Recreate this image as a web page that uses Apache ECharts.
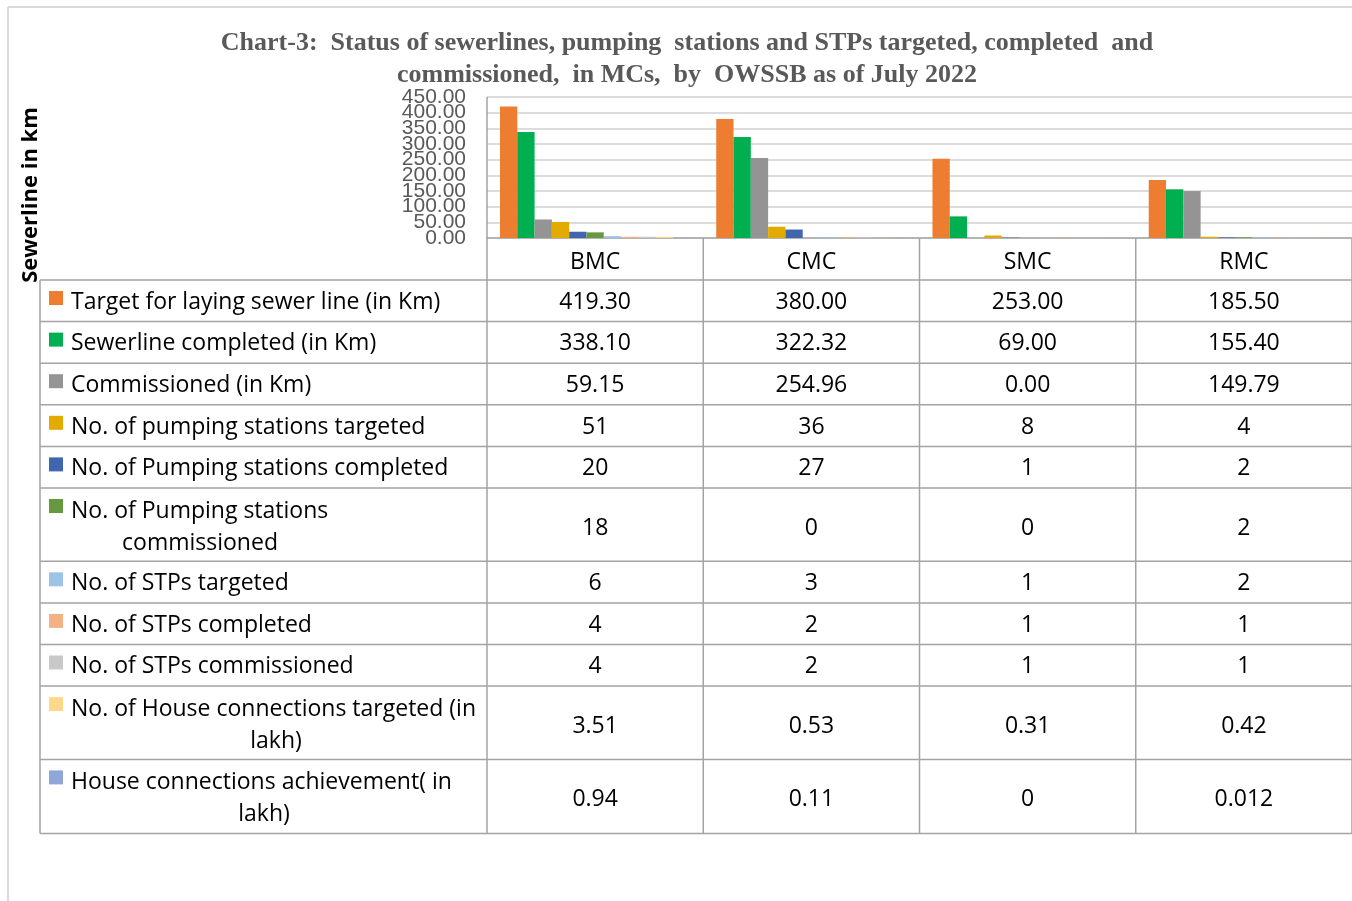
<!DOCTYPE html>
<html><head><meta charset="utf-8">
<script src="https://cdn.jsdelivr.net/npm/echarts@6/dist/echarts.min.js"></script>
<style>html,body{margin:0;padding:0;background:#fff}#c{width:1352px;height:901px}</style>
</head><body><div id="c"></div>
<script>
// ---------------- DATA ----------------
const categories = ['BMC', 'CMC', 'SMC', 'RMC'];
const seriesNames = [
  'Target for laying sewer line (in Km)',
  'Sewerline completed (in Km)',
  'Commissioned (in Km)',
  'No. of pumping stations targeted',
  'No. of Pumping stations completed',
  'No. of Pumping stations\ncommissioned',
  'No. of STPs targeted',
  'No. of STPs completed',
  'No. of STPs commissioned',
  'No. of House connections targeted (in\nlakh)',
  'House connections achievement( in\nlakh)'
];
const targetSewerKm      = [419.30, 380.00, 253.00, 185.50];
const sewerCompletedKm   = [338.10, 322.32, 69.00, 155.40];
const commissionedKm     = [59.15, 254.96, 0.00, 149.79];
const pumpTargeted       = [51, 36, 8, 4];
const pumpCompleted      = [20, 27, 1, 2];
const pumpCommissioned   = [18, 0, 0, 2];
const stpTargeted        = [6, 3, 1, 2];
const stpCompleted       = [4, 2, 1, 1];
const stpCommissioned    = [4, 2, 1, 1];
const houseConnTargeted  = [3.51, 0.53, 0.31, 0.42];
const houseConnAchieved  = [0.94, 0.11, 0, 0.012];
const tableDecimals      = [2, 2, 2, 0, 0, 0, 0, 0, 0, null, null];
const yMin = 0, yMax = 450, yStep = 50;
const yTickValues = [0, 50, 100, 150, 200, 250, 300, 350, 400, 450];
const titleText = 'Chart-3:  Status of sewerlines, pumping  stations and STPs targeted, completed  and\ncommissioned,  in MCs,  by  OWSSB as of July 2022';
const yAxisTitle = 'Sewerline in km';

// ---------------- STYLE ----------------
const seriesData = [targetSewerKm, sewerCompletedKm, commissionedKm, pumpTargeted, pumpCompleted,
  pumpCommissioned, stpTargeted, stpCompleted, stpCommissioned, houseConnTargeted, houseConnAchieved];
const colors = ['#ED7D31', '#00B050', '#949494', '#E3AA00', '#4066B0', '#66993F',
  '#9DC3E6', '#F4B183', '#C9C9C9', '#FFD98A', '#8FA6D8'];
const FONT = '"Open Sans", Lato, sans-serif';
const TABLE_FS = 23;
const rowHeights = [41.6, 41.6, 41.6, 41.6, 41.6, 73.3, 41.6, 41.6, 41.6, 73.3, 74];
const secondLineCenterX = {5: 200, 9: 276, 10: 264};
const headerH = 42;
const tableLeft = 40;
const lineColor = '#a3a3a3';
const textDy = 1.5;

const chart = echarts.init(document.getElementById('c'));
chart.setOption({
  animation: false,
  backgroundColor: '#fff',
  title: {
    text: titleText, left: 682, top: 22, textAlign: 'center',
    textStyle: {fontFamily: '"Liberation Serif", serif', fontSize: 26, fontWeight: 'bold', color: '#595959', lineHeight: 32}
  },
  grid: {left: 487, top: 97, width: 868, height: 141, containLabel: false},
  xAxis: {
    type: 'category', data: categories,
    axisLine: {show: true, lineStyle: {color: '#a6a6a6', width: 1.5}},
    axisTick: {show: false},
    axisLabel: {fontFamily: FONT, fontSize: TABLE_FS, color: '#000', margin: 13, lineHeight: 23}
  },
  yAxis: {
    type: 'value', min: yMin, max: yMax, interval: yStep,
    axisLine: {show: false}, axisTick: {show: false},
    splitLine: {lineStyle: {color: '#dcdcdc', width: 2}},
    axisLabel: {show: false}
  },
  series: seriesData.map((d, i) => ({
    type: 'bar', name: seriesNames[i].replace('\n', ' '), data: d,
    barGap: '0%', barCategoryGap: '12%',
    itemStyle: {color: colors[i]}
  }))
});

// ---------------- TABLE (graphic) ----------------
const centers = categories.map(c => chart.convertToPixel({xAxisIndex: 0}, c));
const colW = centers[1] - centers[0];
const colEdges = [centers[0] - colW / 2].concat(centers.map(c => c + colW / 2));
const axisY = chart.convertToPixel({yAxisIndex: 0}, yMin);
const topY = chart.convertToPixel({yAxisIndex: 0}, yMax);
const tableTop = axisY + headerH;
const rowTops = [tableTop];
rowHeights.forEach(h => rowTops.push(rowTops[rowTops.length - 1] + h));
const tableBottom = rowTops[rowTops.length - 1];
const rightEdge = colEdges[colEdges.length - 1];

const els = [];
const line = (x1, y1, x2, y2, color, w) => els.push({type: 'line', silent: true,
  shape: {x1, y1, x2, y2}, style: {stroke: color, lineWidth: w}});
const text = (t, x, y, align, opts = {}) => els.push(Object.assign({type: 'text', x, y, silent: true,
  style: {text: t, fill: opts.fill || '#000', font: opts.font || (TABLE_FS + 'px ' + FONT),
    align, verticalAlign: 'middle', textAlign: align, textVerticalAlign: 'middle'}}, opts.extra || {}));

// y-axis tick labels (placed through the axis scale; they overlap as in the original)
yTickValues.forEach(v => text(v.toFixed(2), colEdges[0] - 21, chart.convertToPixel({yAxisIndex: 0}, v), 'right',
  {font: '21px "Liberation Sans", sans-serif', fill: '#595959'}));

// outer frame
line(8, 7, 1352, 7, '#d9d9d9', 2);
line(8, 7, 8, 901, '#d9d9d9', 2);
// y title
text(yAxisTitle, 31, 195, 'center', {font: 'bold 22px "Open Sans", sans-serif', extra: {rotation: Math.PI / 2}});
// horizontal row lines
rowTops.forEach(y => line(tableLeft, y, rightEdge, y, lineColor, 1.5));
// vertical lines
line(tableLeft, tableTop, tableLeft, tableBottom, lineColor, 1.5);
line(colEdges[0], topY, colEdges[0], tableBottom, lineColor, 1.5);
colEdges.slice(1).forEach(x => line(x, axisY, x, tableBottom, lineColor, 1.5));

seriesNames.forEach((name, i) => {
  const top = rowTops[i], h = rowHeights[i];
  els.push({type: 'rect', silent: true, shape: {x: 49, y: top + 11, width: 14, height: 14}, style: {fill: colors[i]}});
  const parts = name.split('\n');
  if (parts.length === 1) {
    text(parts[0], 71, top + h / 2 + textDy, 'left');
  } else {
    text(parts[0], 71, top + 22 + textDy, 'left');
    text(parts[1], secondLineCenterX[i], top + 54 + textDy, 'center');
  }
  seriesData[i].forEach((v, j) => {
    const s = tableDecimals[i] === null ? String(v) : v.toFixed(tableDecimals[i]);
    text(s, centers[j], top + h / 2 + textDy + (parts.length > 1 ? 2 : 0), 'center');
  });
});

chart.setOption({graphic: {elements: els}});
</script>
</body></html>
